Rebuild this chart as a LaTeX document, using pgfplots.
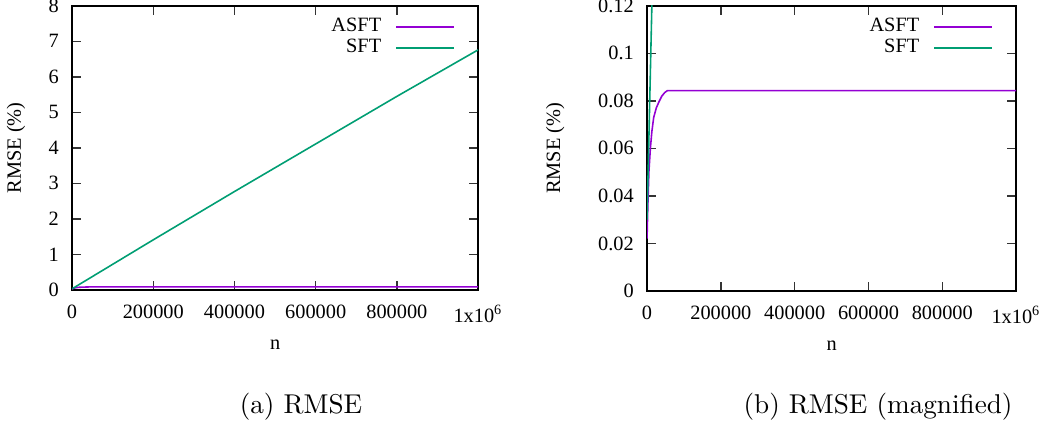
\documentclass[border=0pt]{standalone}
\usepackage{fontspec}
\usepackage{pgfplots}
\pgfplotsset{compat=1.18}
\newfontfamily\gp{Liberation Serif}
\newcommand\gpf{\gp\fontsize{7.7}{9}\selectfont}
\definecolor{asft}{HTML}{9400D3}
\definecolor{sft}{HTML}{009E73}
\pgfplotstableread{
n rmse
0 0.03
200000 1.41
400000 2.77
600000 4.11
800000 5.45
1000000 6.76
}\sftdata
\pgfplotstableread{
n rmse
0 0.022
2000 0.035
5000 0.050
9000 0.060
13000 0.067
18000 0.073
25000 0.077
32000 0.0795
40000 0.082
48000 0.0835
55000 0.0843
1000000 0.0843
}\asftdata
\pgfplotsset{gpstyle/.style={
  scale only axis,
  axis line style={line width=0.75pt},
  tick align=inside,
  major tick length=3.4pt,
  tick style={black!80, line width=0.5pt},
  ticklabel style={font=\gpf},
  label style={font=\gpf},
  xmin=0, xmax=1000000,
  xtick={0,200000,400000,600000,800000,1000000},
  xticklabels={0,200000,400000,600000,800000,1x10\textsuperscript{6}},
  xticklabel style={yshift=-2.3pt},
  yticklabel style={xshift=-1.5pt},
  scaled ticks=false,
  legend style={draw=none, fill=none, font=\gpf, at={(axis description cs:1,1)}, anchor=north east, xshift=-5.5pt, yshift=-0.5pt, row sep=-2.6pt, column sep=3.4pt},
  legend cell align=right,
  legend plot pos=right,
  legend image code/.code={\draw[##1] (0pt,0pt)--(22pt,0pt);},
  xlabel={n}, ylabel={RMSE (\%)},
  xlabel style={at={(axis description cs:0.5,0)}, anchor=center, yshift=-20.7pt},
  every axis plot/.append style={line width=0.6pt},
}}
\begin{document}
\begin{tikzpicture}
\begin{axis}[gpstyle, width=153.8pt, height=107.6pt, at={(27.3pt,51.9pt)}, anchor=south west,
  ymin=0, ymax=8, ytick={0,1,2,3,4,5,6,7,8}, yticklabels={0,1,2,3,4,5,6,7,8},
  ylabel style={at={([xshift=-21.2pt]axis description cs:0,0.5)}, anchor=center}]
\addplot[asft, no marks] table[x=n,y=rmse] {\asftdata};
\addlegendentry{ASFT}
\addplot[sft, no marks] table[x=n,y=rmse] {\sftdata};
\addlegendentry{SFT}
\end{axis}
\begin{axis}[gpstyle, width=139.8pt, height=108pt, at={(245.1pt,51.5pt)}, anchor=south west,
  ymin=0, ymax=0.12, ytick={0,0.02,0.04,0.06,0.08,0.1,0.12}, yticklabels={0,0.02,0.04,0.06,0.08,0.1,0.12},
  ylabel style={at={([xshift=-34.8pt]axis description cs:0,0.5)}, anchor=center}]
\addplot[asft, no marks] table[x=n,y=rmse] {\asftdata};
\addlegendentry{ASFT}
\addplot[sft, no marks] table[x=n,y=rmse] {\sftdata};
\addlegendentry{SFT}
\end{axis}
\node[font=\fontsize{10.3}{12}\selectfont] at (114pt,7.6pt) {(a) RMSE};
\node[font=\fontsize{10.3}{12}\selectfont] at (332.6pt,7.6pt) {(b) RMSE (magnified)};
\pgfresetboundingbox
\path (0,0) rectangle (396.6pt,161.7pt);
\end{tikzpicture}
\end{document}
